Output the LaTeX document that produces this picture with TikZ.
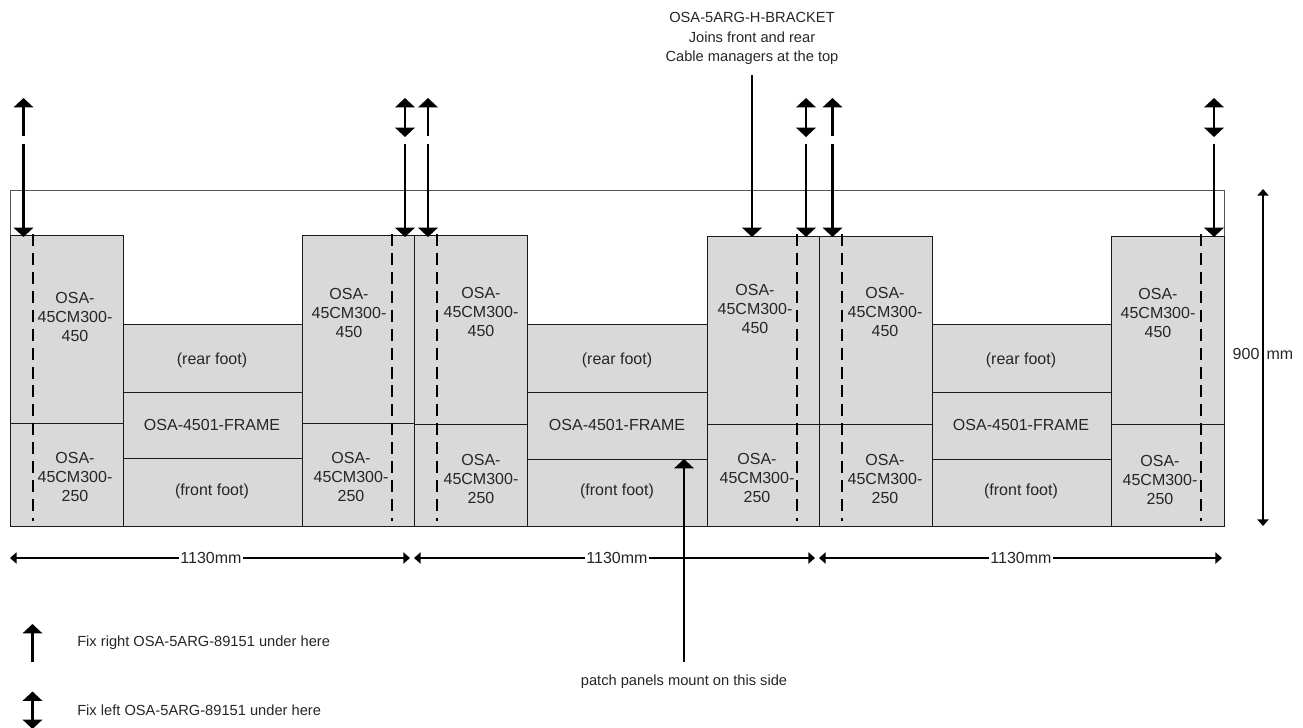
\documentclass[tikz,border=0pt]{standalone}
\usepackage{fontspec}
\setmainfont{Liberation Sans}
\usetikzlibrary{arrows.meta}
\definecolor{panel}{HTML}{D9D9D9}
\definecolor{edge}{HTML}{1A1A1A}
\definecolor{outer}{HTML}{555555}
\tikzset{
  x=.75pt,y=-.75pt,
  fixtip/.tip={Triangle[width=14.5pt,length=7pt]},
  dimtip/.tip={Triangle[width=8.5pt,length=5pt]},
  panelbox/.style={draw=edge,fill=panel,line width=.75pt,inner sep=0pt,outer sep=0pt},
  lbl/.style={font=\fontsize{12pt}{14.6pt}\selectfont,align=center,inner sep=0pt,text=black!85},
  small/.style={font=\fontsize{11pt}{14.6pt}\selectfont,inner sep=0pt,text=black!85},
  fixline/.style={line width=1.9pt,draw=black},
  dimline/.style={line width=1.1pt},
  cutline/.style={line width=.9pt,dash pattern=on 9pt off 5.2pt},
}
\newcommand{\rectnode}[5]{\node[panelbox,minimum width={(#4-#2)*.75pt},minimum height={(#5-#3)*.75pt}] (#1) at ({(#2+#4)/2},{(#3+#5)/2}) {};}
\begin{document}
\begin{tikzpicture}
\useasboundingbox[clip] (0,0) rectangle (1303,728);
\rectnode{frameall}{10}{190}{1224}{526}
\fill[white] (frameall.south west) rectangle (frameall.north east);
\draw[outer,line width=.75pt] (frameall.south west) rectangle (frameall.north east);
% module boxes
\rectnode{a1}{10}{235}{123}{423.5}
\rectnode{a2}{10}{423.5}{123}{526}
\rectnode{a3}{123}{324}{302}{392}
\rectnode{a4}{123}{392}{302}{458}
\rectnode{a5}{123}{458}{302}{526}
\rectnode{a6}{302}{235}{414}{423.5}
\rectnode{a7}{302}{423.5}{414}{526}
\rectnode{b1}{414}{235}{527}{424}
\rectnode{b2}{414}{424}{527}{526}
\rectnode{b3}{527}{324}{707}{392}
\rectnode{b4}{527}{392}{707}{459}
\rectnode{b5}{527}{459}{707}{526}
\rectnode{b6}{707}{236}{819}{424}
\rectnode{b7}{707}{424}{819}{526}
\rectnode{c1}{819}{236}{932}{424}
\rectnode{c2}{819}{424}{932}{526}
\rectnode{c3}{932}{324}{1111}{392}
\rectnode{c4}{932}{392}{1111}{459}
\rectnode{c5}{932}{459}{1111}{526}
\rectnode{c6}{1111}{236}{1224}{424}
\rectnode{c7}{1111}{424}{1224}{526}
% dashed lines
\foreach \x in {33,392,437,797,842,1201}
  \draw[cutline] (\x,234) -- (\x,521);
% labels
\foreach \x/\y/\n in {75/317/l1,349/313/l2,481/312/l3,755/309/l4,885/312/l5,1158/313/l6}
  \node[lbl] (\n) at (\x,\y) {OSA-\\45CM300-\\450};
\foreach \x/\y/\n in {75/477/m1,351/477/m2,481/479/m3,757/478/m4,885/479/m5,1160/480/m6}
  \node[lbl] (\n) at (\x,\y) {OSA-\\45CM300-\\250};
\foreach \x/\n in {212/p,617/q,1021/r}{
  \node[lbl] (\n rear) at (\x,360) {(rear foot)};
  \node[lbl] (\n frame) at (\x,425) {OSA-4501-FRAME};
  \node[lbl] (\n front) at (\x,491) {(front foot)};
}
% fixing arrows
\foreach \x/\n in {23.5/f1,428/f2,832.5/f3}{
  \coordinate (\n u) at (\x,98);\coordinate (\n ue) at (\x,136);
  \coordinate (\n d) at (\x,144);\coordinate (\n de) at (\x,237);
  \draw[fixline,-fixtip] (\n ue) -- (\n u);
  \draw[fixline,-fixtip] (\n d) -- (\n de);
}
\foreach \x/\n in {405/g1,806/g2,1214/g3}{
  \coordinate (\n u) at (\x,98);\coordinate (\n ue) at (\x,137);
  \coordinate (\n d) at (\x,144);\coordinate (\n de) at (\x,237);
  \draw[fixline,fixtip-fixtip] (\n u) -- (\n ue);
  \draw[fixline,-fixtip] (\n d) -- (\n de);
}
% bracket
\node[small,align=center] (br) at (752,38.5) {OSA-5ARG-H-BRACKET\\Joins front and rear\\Cable managers at the top};
\coordinate (brt) at (752,75);\coordinate (brb) at (752,237);
\draw[fixline,-fixtip] (brt) -- (brb);
% dimensions
\foreach \a/\b/\c/\n in {10/410/211/d1,414/815/617/d2,819/1222/1021/d3}{
  \coordinate (\n a) at (\a,558);\coordinate (\n b) at (\b,558);
  \draw[dimline,dimtip-dimtip] (\n a) -- (\n b);
  \node[lbl,fill=white,inner xsep=1pt] (\n t) at (\c,557.5) {1130mm};
}
\coordinate (ht) at (1263,189);\coordinate (hb) at (1263,526);
\draw[dimline,dimtip-dimtip] (ht) -- (hb);
\node[lbl] (ht1) at (1263,354) {900\hspace{.45em}mm};
% patch panels
\node[small] (pp) at (684,682) {patch panels mount on this side};
\coordinate (ppa) at (684,662);\coordinate (ppb) at (684,459);
\draw[fixline,-fixtip] (ppa) -- (ppb);
% legend
\coordinate (ka) at (32.5,662);\coordinate (kb) at (32.5,624);
\draw[fixline,-fixtip] (ka) -- (kb);
\coordinate (la) at (32.5,691.5);\coordinate (lb) at (32.5,729);
\draw[fixline,fixtip-fixtip] (la) -- (lb);
\node[small,anchor=west] (kt) at (77,643) {Fix right OSA-5ARG-89151 under here};
\node[small,anchor=west] (lt) at (77,710) {Fix left OSA-5ARG-89151 under here};
\end{tikzpicture}
\end{document}
